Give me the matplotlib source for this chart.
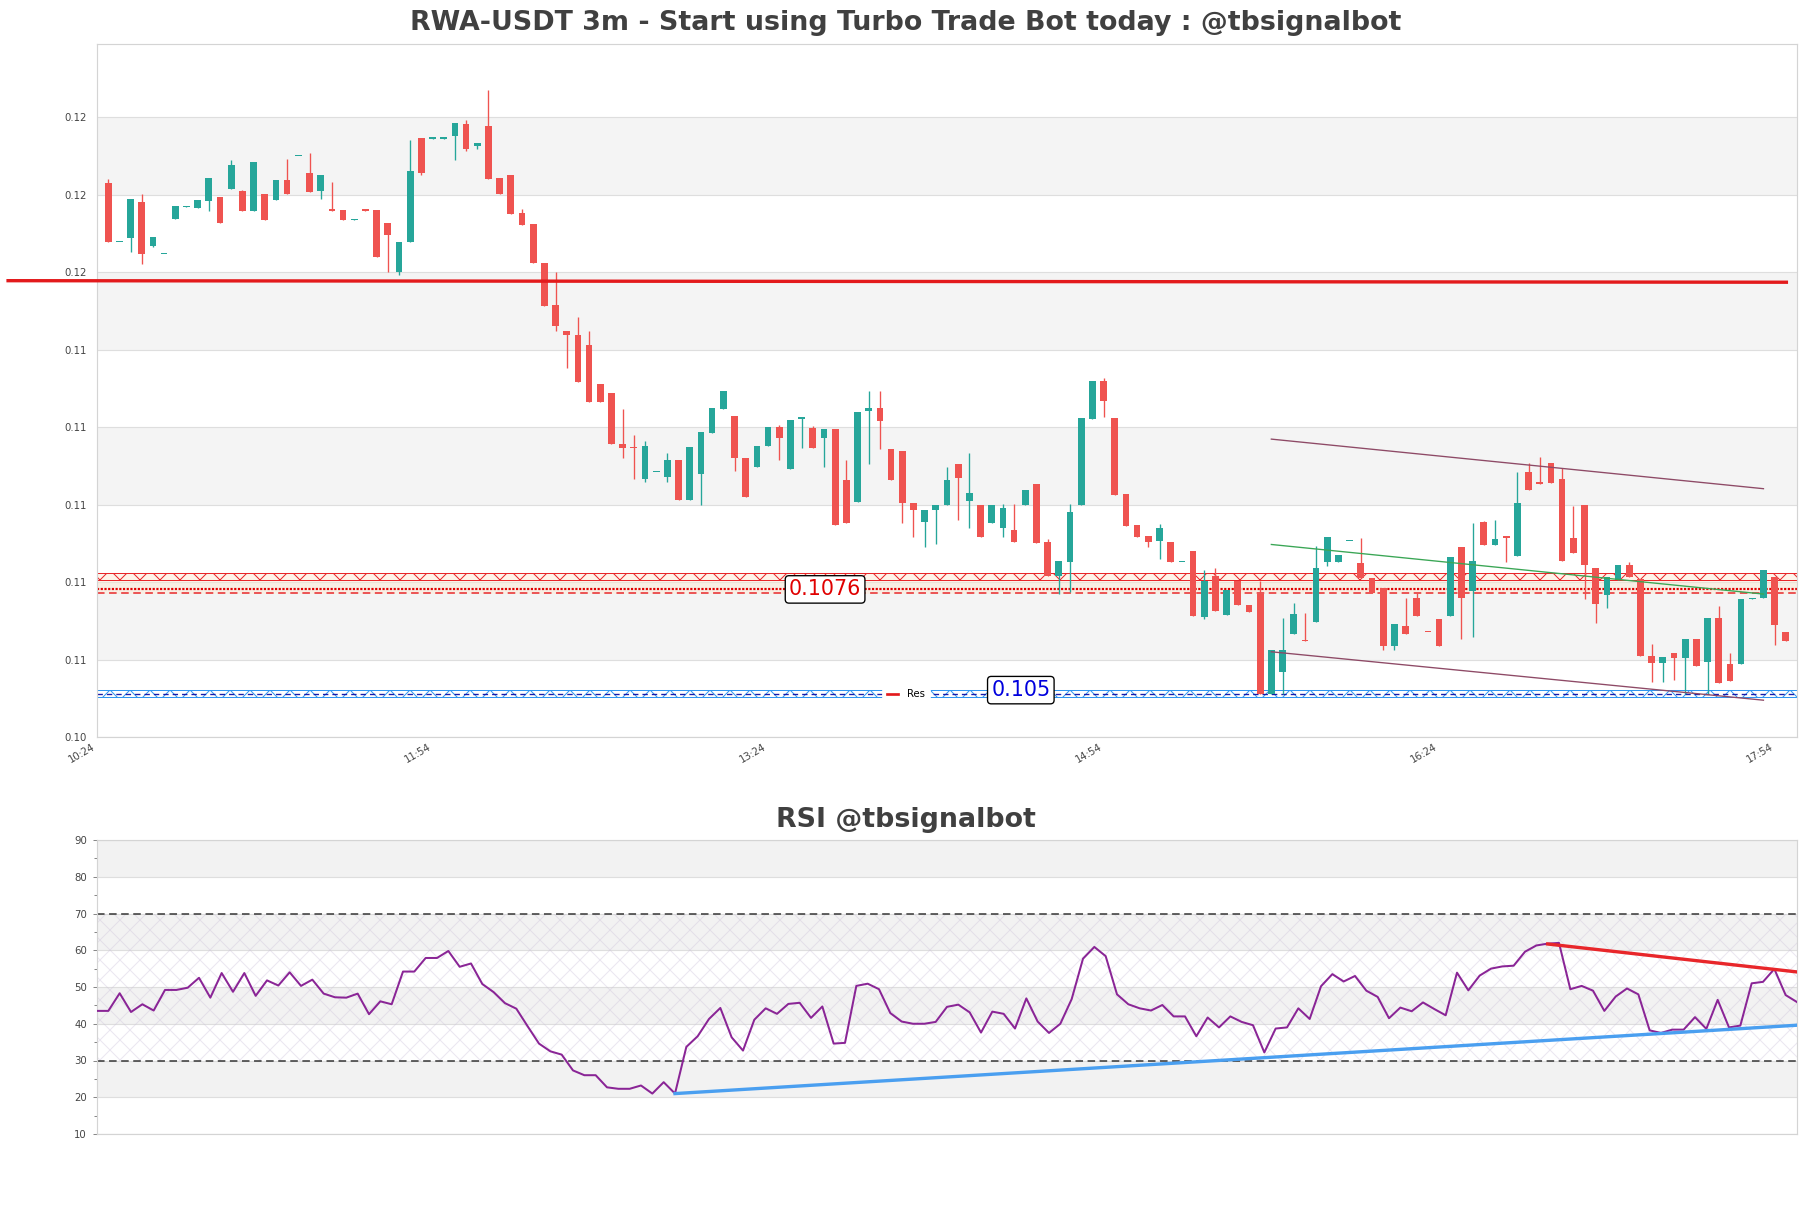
import numpy as np
import matplotlib
matplotlib.use("Agg")
import matplotlib.pyplot as plt
from matplotlib.ticker import FormatStrFormatter, MultipleLocator, FixedLocator
from matplotlib.lines import Line2D

plt.rcParams['hatch.linewidth'] = 0.6

# ---------------- data ----------------
opens = [0.11831, 0.11677, 0.11688, 0.11780, 0.11667, 0.11647, 0.11737, 0.11769, 0.11766, 0.11784,
         0.11793, 0.11815, 0.11809, 0.11758, 0.11803, 0.11786, 0.11837, 0.11900, 0.11855, 0.11810,
         0.11760, 0.11760, 0.11735, 0.11762, 0.11760, 0.11726, 0.11600, 0.11678, 0.11946, 0.11945,
         0.11945, 0.11952, 0.11982, 0.11926, 0.11977, 0.11843, 0.11851, 0.11753, 0.11724, 0.11623,
         0.11514, 0.11449, 0.11439, 0.11411, 0.11310, 0.11289, 0.11156, 0.11147, 0.11067, 0.11083,
         0.11070, 0.11116, 0.11011, 0.11080, 0.11186, 0.11248, 0.11229, 0.11120, 0.11098, 0.11150,
         0.11201, 0.11092, 0.11222, 0.11198, 0.11173, 0.11196, 0.11063, 0.11007, 0.11241, 0.11249,
         0.11143, 0.11139, 0.11004, 0.10955, 0.10985, 0.10999, 0.11105, 0.11009, 0.11000, 0.10952,
         0.10939, 0.10934, 0.10999, 0.11053, 0.10904, 0.10815, 0.10852, 0.10999, 0.11222, 0.11318,
         0.11224, 0.11027, 0.10948, 0.10918, 0.10906, 0.10904, 0.10852, 0.10879, 0.10710, 0.10815,
         0.10714, 0.10804, 0.10742, 0.10768, 0.10511, 0.10569, 0.10666, 0.10651, 0.10696, 0.10851,
         0.10853, 0.10905, 0.10850, 0.10811, 0.10784, 0.10635, 0.10687, 0.10760, 0.10671, 0.10705,
         0.10713, 0.10891, 0.10776, 0.10954, 0.10895, 0.10919, 0.10866, 0.11084, 0.11059, 0.11108,
         0.11067, 0.10913, 0.11000, 0.10835, 0.10767, 0.10806, 0.10845, 0.10808, 0.10609, 0.10590,
         0.10617, 0.10604, 0.10652, 0.10593, 0.10706, 0.10589, 0.10589, 0.10757, 0.10759, 0.10812,
         0.10670]
highs = [0.11841, 0.11678, 0.11788, 0.11803, 0.11692, 0.11648, 0.11770, 0.11770, 0.11785, 0.11842,
         0.11793, 0.11889, 0.11813, 0.11884, 0.11803, 0.11837, 0.11891, 0.11901, 0.11907, 0.11850,
         0.11832, 0.11760, 0.11736, 0.11762, 0.11760, 0.11726, 0.11679, 0.11941, 0.11946, 0.11946,
         0.11946, 0.11984, 0.11994, 0.11933, 0.12070, 0.11843, 0.11851, 0.11763, 0.11724, 0.11623,
         0.11600, 0.11449, 0.11483, 0.11449, 0.11310, 0.11289, 0.11247, 0.11179, 0.11165, 0.11084,
         0.11134, 0.11116, 0.11149, 0.11188, 0.11250, 0.11294, 0.11229, 0.11120, 0.11152, 0.11201,
         0.11205, 0.11219, 0.11223, 0.11203, 0.11195, 0.11196, 0.11116, 0.11240, 0.11292, 0.11294,
         0.11143, 0.11139, 0.11004, 0.10987, 0.11000, 0.11097, 0.11105, 0.11132, 0.11000, 0.11000,
         0.11001, 0.11001, 0.11038, 0.11053, 0.10912, 0.10854, 0.11001, 0.11224, 0.11318, 0.11327,
         0.11224, 0.11027, 0.10948, 0.10918, 0.10949, 0.10904, 0.10853, 0.10879, 0.10832, 0.10837,
         0.10780, 0.10804, 0.10742, 0.10804, 0.10625, 0.10707, 0.10745, 0.10719, 0.10894, 0.10917,
         0.10871, 0.10906, 0.10913, 0.10811, 0.10784, 0.10692, 0.10760, 0.10773, 0.10671, 0.10705,
         0.10865, 0.10891, 0.10953, 0.10958, 0.10959, 0.10919, 0.11083, 0.11108, 0.11122, 0.11108,
         0.11094, 0.10997, 0.11000, 0.10835, 0.10812, 0.10845, 0.10852, 0.10808, 0.10639, 0.10607,
         0.10617, 0.10652, 0.10652, 0.10706, 0.10739, 0.10617, 0.10757, 0.10758, 0.10832, 0.10812,
         0.10670]
lows = [0.11678, 0.11677, 0.11653, 0.11621, 0.11664, 0.11647, 0.11737, 0.11769, 0.11766, 0.11758,
        0.11727, 0.11815, 0.11758, 0.11758, 0.11735, 0.11786, 0.11802, 0.11900, 0.11807, 0.11789,
        0.11759, 0.11735, 0.11735, 0.11758, 0.11639, 0.11600, 0.11593, 0.11678, 0.11850, 0.11945,
        0.11945, 0.11890, 0.11913, 0.11917, 0.11841, 0.11802, 0.11751, 0.11722, 0.11624, 0.11512,
        0.11448, 0.11353, 0.11316, 0.11264, 0.11264, 0.11156, 0.11121, 0.11067, 0.11058, 0.11083,
        0.11057, 0.11011, 0.11011, 0.11000, 0.11186, 0.11248, 0.11087, 0.11020, 0.11098, 0.11150,
        0.11116, 0.11092, 0.11145, 0.11145, 0.11098, 0.10947, 0.10952, 0.11007, 0.11104, 0.11143,
        0.11064, 0.10952, 0.10916, 0.10890, 0.10898, 0.10999, 0.10961, 0.10939, 0.10916, 0.10952,
        0.10916, 0.10903, 0.10999, 0.10901, 0.10815, 0.10770, 0.10774, 0.10999, 0.11222, 0.11225,
        0.11025, 0.10945, 0.10917, 0.10891, 0.10859, 0.10852, 0.10852, 0.10712, 0.10705, 0.10725,
        0.10714, 0.10740, 0.10722, 0.10511, 0.10511, 0.10511, 0.10666, 0.10647, 0.10696, 0.10841,
        0.10853, 0.10905, 0.10810, 0.10772, 0.10624, 0.10624, 0.10667, 0.10712, 0.10670, 0.10635,
        0.10713, 0.10654, 0.10657, 0.10895, 0.10895, 0.10853, 0.10866, 0.11037, 0.11053, 0.11056,
        0.10854, 0.10875, 0.10757, 0.10694, 0.10732, 0.10806, 0.10814, 0.10609, 0.10541, 0.10541,
        0.10547, 0.10511, 0.10584, 0.10511, 0.10539, 0.10544, 0.10589, 0.10757, 0.10759, 0.10638,
        0.10648]
closes = [0.11678, 0.11678, 0.11788, 0.11647, 0.11692, 0.11648, 0.11770, 0.11770, 0.11785, 0.11842,
          0.11727, 0.11876, 0.11758, 0.11884, 0.11735, 0.11837, 0.11802, 0.11901, 0.11807, 0.11850,
          0.11759, 0.11735, 0.11736, 0.11758, 0.11639, 0.11696, 0.11679, 0.11860, 0.11855, 0.11946,
          0.11946, 0.11984, 0.11917, 0.11933, 0.11841, 0.11802, 0.11751, 0.11722, 0.11624, 0.11512,
          0.11461, 0.11438, 0.11316, 0.11264, 0.11264, 0.11156, 0.11146, 0.11146, 0.11151, 0.11084,
          0.11116, 0.11011, 0.11149, 0.11188, 0.11250, 0.11294, 0.11119, 0.11020, 0.11152, 0.11201,
          0.11173, 0.11219, 0.11223, 0.11145, 0.11195, 0.10947, 0.10952, 0.11240, 0.11249, 0.11217,
          0.11064, 0.11004, 0.10985, 0.10987, 0.11000, 0.11063, 0.11069, 0.11029, 0.10916, 0.11000,
          0.10990, 0.10903, 0.11038, 0.10901, 0.10815, 0.10854, 0.10981, 0.11224, 0.11318, 0.11267,
          0.11025, 0.10945, 0.10917, 0.10903, 0.10940, 0.10852, 0.10853, 0.10712, 0.10803, 0.10725,
          0.10780, 0.10740, 0.10722, 0.10511, 0.10625, 0.10625, 0.10718, 0.10647, 0.10835, 0.10917,
          0.10871, 0.10906, 0.10810, 0.10772, 0.10635, 0.10692, 0.10667, 0.10712, 0.10670, 0.10635,
          0.10865, 0.10758, 0.10855, 0.10895, 0.10910, 0.10914, 0.11003, 0.11037, 0.11053, 0.11056,
          0.10854, 0.10875, 0.10844, 0.10743, 0.10812, 0.10845, 0.10814, 0.10609, 0.10590, 0.10607,
          0.10604, 0.10652, 0.10584, 0.10706, 0.10539, 0.10544, 0.10757, 0.10758, 0.10832, 0.10688,
          0.10648]

rsi_values = [43.5, 43.5, 48.3, 43.2, 45.3, 43.6, 49.2, 49.2, 49.8, 52.5,
              47.1, 53.8, 48.7, 53.8, 47.6, 51.8, 50.4, 54.0, 50.3, 52.0,
              48.2, 47.2, 47.1, 48.2, 42.6, 46.1, 45.3, 54.2, 54.2, 57.9,
              57.9, 59.8, 55.5, 56.4, 50.8, 48.6, 45.6, 44.1, 39.3, 34.6,
              32.5, 31.6, 27.3, 26.0, 26.0, 22.7, 22.3, 22.3, 23.2, 21.0,
              24.1, 21.0, 33.7, 36.6, 41.3, 44.3, 36.3, 32.7, 41.1, 44.2,
              42.7, 45.4, 45.7, 41.6, 44.7, 34.6, 34.8, 50.3, 50.9, 49.4,
              42.9, 40.6, 40.0, 40.0, 40.5, 44.6, 45.2, 43.1, 37.6, 43.3,
              42.7, 38.7, 46.9, 40.6, 37.5, 40.0, 46.7, 57.7, 60.9, 58.4,
              48.0, 45.3, 44.2, 43.6, 45.1, 42.0, 42.0, 36.6, 41.7, 39.0,
              42.0, 40.5, 39.6, 32.2, 38.7, 39.0, 44.2, 41.3, 50.2, 53.5,
              51.5, 53.0, 49.0, 47.3, 41.5, 44.4, 43.4, 45.8, 44.0, 42.3,
              53.9, 49.1, 53.1, 55.0, 55.6, 55.8, 59.6, 61.3, 61.8, 62.0,
              49.4, 50.3, 49.0, 43.5, 47.4, 49.6, 48.0, 38.2, 37.5, 38.4,
              38.4, 41.8, 38.6, 46.5, 39.0, 39.5, 51.0, 51.4, 54.9, 47.8,
              45.9]

first_bar_time = "10:27"
bar_minutes = 3
xtick_labels = ["10:24", "11:54", "13:24", "14:54", "16:24", "17:54"]

resistance_text = "0.1076"
support_text = "0.105"
res_band = (0.10805, 0.10823)
res_dotted = 0.10781
res_dashed = 0.10773
res_tint = (0.10770, 0.10823)
sup_band = (0.10503, 0.10521)
sup_line = 0.10512

red_level_x = [-9.1, 150.2]
red_level_y = [0.11578, 0.11574]
channel_upper_x = [104, 148]
channel_upper_y = [0.11169, 0.11041]
channel_lower_x = [104, 148]
channel_lower_y = [0.10620, 0.10495]
mid_line_x = [104, 148]
mid_line_y = [0.10897, 0.10769]

rsi_red_x = [128, 150]
rsi_red_y = [61.7, 54.1]
rsi_blue_x = [51, 150]
rsi_blue_y = [21.0, 39.6]

title = "RWA-USDT 3m - Start using Turbo Trade Bot today : @tbsignalbot"
rsi_title = "RSI @tbsignalbot"

# ---------------- figure ----------------
DPI = 120.8
W, H = 1811, 1208
fig = plt.figure(figsize=(W / DPI, H / DPI), dpi=DPI)
fig.patch.set_facecolor('white')

ax = fig.add_axes([97 / W, 1 - 737 / H, 1700 / W, 693 / H])
axr = fig.add_axes([97 / W, 1 - 1134 / H, 1700 / W, 294 / H])

UP = '#26a69a'
DN = '#ef5350'
TXT = '#444444'
SPINE = '#d4d4d4'

o = np.array(opens); h = np.array(highs); l = np.array(lows); c = np.array(closes)
x = np.arange(len(o))
cols = [UP if cc >= oo else DN for oo, cc in zip(o, c)]

# background bands + grid
for lo in np.arange(0.106, 0.1195, 0.004):
    ax.axhspan(lo, lo + 0.002, color='#f4f4f4', zorder=0, lw=0)
ax.set_axisbelow(True)
ax.yaxis.grid(True, color='#dedede', lw=0.7)
ax.xaxis.grid(False)

# resistance zone
ax.axhspan(res_tint[0], res_tint[1], color='#fde8d2', alpha=0.45, lw=0, zorder=0.8)
ax.axhspan(res_band[0], res_band[1], facecolor='none', edgecolor='#e8262a',
           hatch='xx', lw=0.6, zorder=1)
ax.axhline(res_dotted, color='#e00000', ls=(0, (1, 0.7)), lw=1.3, zorder=1)
ax.axhline(res_dashed, color='#e8262a', ls=(0, (5, 3)), lw=0.9, zorder=1)

# support zone
ax.axhspan(sup_band[0], sup_band[1], facecolor='none', edgecolor='#2f95f0',
           hatch='xx', lw=0.6, zorder=1)
ax.axhline(sup_line, color='#1a1aa8', ls=(0, (4, 3)), lw=0.8, zorder=1)

# candles
ax.vlines(x, l, h, colors=cols, lw=0.8, zorder=2)
body_lo = np.minimum(o, c)
body_h = np.maximum(np.abs(c - o), 0.00003)
ax.bar(x, body_h, bottom=body_lo, width=0.6, color=cols, lw=0, zorder=3)

# lines
ax.plot(red_level_x, red_level_y, color='#e31a1c', lw=2.0, zorder=4, clip_on=False,
        solid_capstyle='butt')
ax.plot(channel_upper_x, channel_upper_y, color='#8e4a66', lw=0.8, zorder=4)
ax.plot(channel_lower_x, channel_lower_y, color='#8e4a66', lw=0.8, zorder=4)
ax.plot(mid_line_x, mid_line_y, color='#3aa655', lw=0.8, zorder=4)

# labels
ax.text(64.1, res_dotted, resistance_text, color='#e00000', fontsize=12.3,
        ha='center', va='center', zorder=10,
        bbox=dict(boxstyle='round,pad=0.18', fc='white', ec='black', lw=0.8))
ax.text(81.6, 0.10521, support_text, color='#0000dd', fontsize=12.3,
        ha='center', va='center', zorder=10,
        bbox=dict(boxstyle='round,pad=0.18', fc='white', ec='black', lw=0.8))

leg = ax.legend(handles=[Line2D([0], [0], color='#e31a1c', lw=1.6)], labels=['Res'],
                loc='center', bbox_to_anchor=(0.476, 0.0616), fontsize=6,
                frameon=True, framealpha=1, facecolor='white', edgecolor='white',
                fancybox=False, handlelength=1.1, handletextpad=0.9, borderpad=0.45)
leg.set_zorder(9)

# axes formatting
ax.set_xlim(-1, len(o))
ax.set_ylim(0.104, 0.12189)
ax.yaxis.set_major_locator(FixedLocator(np.arange(0.104, 0.1205, 0.002)))
ax.yaxis.set_major_formatter(FormatStrFormatter('%.2f'))

def to_min(s):
    hh, mm = s.split(':')
    return int(hh) * 60 + int(mm)

tick_pos = [(to_min(t) - to_min(first_bar_time)) / bar_minutes for t in xtick_labels]
ax.set_xticks(tick_pos)
ax.set_xticklabels(xtick_labels, rotation=30, ha='right')
ax.tick_params(axis='both', length=0, labelsize=6, labelcolor=TXT)
ax.tick_params(axis='y', pad=6)
ax.tick_params(axis='x', pad=3)
for sp in ax.spines.values():
    sp.set_color(SPINE)
    sp.set_linewidth(0.7)

# ---------------- RSI ----------------
for lo in [20, 40, 60, 80]:
    axr.axhspan(lo, lo + 10, color='#f2f2f2', zorder=0, lw=0)
axr.set_axisbelow(True)
axr.yaxis.grid(True, color='#dedede', lw=0.7)
axr.axhspan(30, 70, facecolor='none', edgecolor=(0.80, 0.76, 0.86, 0.40),
            hatch='xx', lw=0, zorder=0.6)
axr.axhline(30, color='#333333', ls=(0, (5, 3)), lw=0.9, zorder=2)
axr.axhline(70, color='#333333', ls=(0, (5, 3)), lw=0.9, zorder=2)

xr = np.arange(len(rsi_values))
axr.plot(xr, rsi_values, color='#8a2596', lw=1.2, zorder=3)
axr.plot(rsi_red_x, rsi_red_y, color='#e8262a', lw=2.0, zorder=4)
axr.plot(rsi_blue_x, rsi_blue_y, color='#4a9ff0', lw=2.0, zorder=4)

axr.set_xlim(0, len(rsi_values) - 1)
axr.set_ylim(10, 90)
axr.set_xticks([])
axr.yaxis.set_major_locator(MultipleLocator(10))
axr.yaxis.set_minor_locator(MultipleLocator(5))
axr.tick_params(axis='y', which='major', length=2.5, width=0.6, color='#888888',
                labelsize=6, labelcolor=TXT, pad=3.5)
axr.tick_params(axis='y', which='minor', length=1.5, width=0.6, color='#888888')
for sp in axr.spines.values():
    sp.set_color(SPINE)
    sp.set_linewidth(0.7)

# titles
fig.text(0.5, 1 - 23 / H, title, ha='center', va='center', fontsize=16,
         fontweight='bold', color='#404040')
fig.text(0.5, 1 - 820 / H, rsi_title, ha='center', va='center', fontsize=16,
         fontweight='bold', color='#404040')

fig.savefig('out.png', dpi=DPI, facecolor='white')
